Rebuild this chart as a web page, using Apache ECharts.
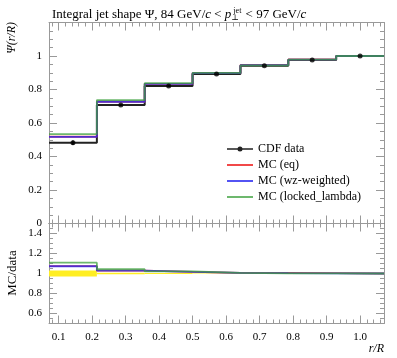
<!DOCTYPE html>
<html><head><meta charset="utf-8">
<script src="https://cdn.jsdelivr.net/npm/echarts@6/dist/echarts.min.js"></script>
<style>html,body{margin:0;padding:0;background:#fff}#c{width:397px;height:358px}</style>
</head><body><div id="c"></div>
<script>
// ---- data ----
const binEdges = [0.0714, 0.2143, 0.3571, 0.5, 0.6429, 0.7857, 0.9286, 1.0714];
const binCenters = [0.1429, 0.2857, 0.4286, 0.5714, 0.7143, 0.8571, 1.0];
const cdfData = [0.482, 0.707, 0.821, 0.893, 0.942, 0.976, 1.0];
const cdfErr = [0.014, 0.006, 0.004, 0.003, 0.002, 0.002, 0.001];
const mcEq = [0.518, 0.727, 0.834, 0.898, 0.947, 0.979, 1.0];
const mcWz = [0.517, 0.727, 0.834, 0.898, 0.945, 0.978, 1.0];
const mcLocked = [0.534, 0.737, 0.838, 0.899, 0.944, 0.978, 1.0];
const xTickLabels = [0.1, 0.2, 0.3, 0.4, 0.5, 0.6, 0.7, 0.8, 0.9, 1.0];
const ratioTickLabels = [0.6, 0.8, 1.0, 1.2, 1.4];

const XMIN = binEdges[0], XMAX = binEdges[binEdges.length - 1];
const xMinor = [];
for (let v = 0.08; v < XMAX; v += 0.02) xMinor.push(Math.round(v * 100) / 100);

function stepPts(vals) {
  const pts = vals.map((v, i) => [binEdges[i], v]);
  pts.push([binEdges[binEdges.length - 1], vals[vals.length - 1]]);
  return pts;
}
function ratio(vals) { return vals.map((v, i) => v / cdfData[i]); }

const FONT = '"Liberation Serif", "DejaVu Serif", serif';
const TICKC = '#999';

function xAx(grid, pos, major, labels) {
  return {
    type: 'value', gridIndex: grid, position: pos, min: XMIN, max: XMAX,
    axisLine: { show: major, onZero: false, lineStyle: { color: (grid === 0 && pos === 'bottom') ? '#555' : '#999' } },
    axisTick: { show: true, inside: true, length: major ? 8 : 4, customValues: major ? xTickLabels : xMinor, lineStyle: { color: TICKC } },
    axisLabel: { show: labels, customValues: xTickLabels, fontFamily: FONT, fontSize: 11, color: '#000', margin: 8,
      formatter: v => v.toFixed(1) },
    splitLine: { show: false }
  };
}
function yRatio(pos, major, labels) {
  return {
    type: 'value', gridIndex: 1, position: pos, min: 0.5, max: 1.5,
    interval: major ? undefined : 0.05,
    axisLine: { show: major, lineStyle: { color: '#999' } },
    axisTick: major ? { show: true, inside: true, length: 8, customValues: ratioTickLabels, lineStyle: { color: TICKC } }
                    : { show: true, inside: true, length: 4, lineStyle: { color: TICKC } },
    axisLabel: { show: labels, customValues: ratioTickLabels, fontFamily: FONT, fontSize: 11, color: '#000', margin: 7,
      formatter: v => (Math.abs(v - 1) < 1e-9 ? '1' : String(Math.round(v * 10) / 10)) },
    splitLine: { show: false }
  };
}
function yMain(pos, labels) {
  return {
    type: 'value', gridIndex: 0, position: pos, min: 0, max: 1.2, interval: 0.2,
    axisLine: { show: true, lineStyle: { color: '#999' } },
    axisTick: { show: true, inside: true, length: 8, lineStyle: { color: TICKC } },
    minorTick: { show: true, splitNumber: 4, length: 4, lineStyle: { color: TICKC } },
    axisLabel: { show: labels, showMaxLabel: false, fontFamily: FONT, fontSize: 11, color: '#000', margin: 7,
      formatter: v => (Math.abs(v - 1) < 1e-9 ? '1' : (v === 0 ? '0' : String(Math.round(v * 10) / 10))) },
    splitLine: { show: false }, minorSplitLine: { show: false }
  };
}

const bandData = cdfData.map((v, i) => [binEdges[i], binEdges[i + 1], 1 - cdfErr[i] / v, 1 + cdfErr[i] / v]);
const errData = cdfData.map((v, i) => [binCenters[i], v - cdfErr[i], v + cdfErr[i]]);

function mcLine(name, vals, color, xi, yi, withName) {
  return {
    type: 'line', name: withName ? name : undefined, xAxisIndex: xi, yAxisIndex: yi, step: 'end',
    data: stepPts(vals), symbol: 'none', silent: true, animation: false,
    lineStyle: { color: color, width: 1.8 }, itemStyle: { color: color }
  };
}

const RED = 'rgba(238,40,40,0.85)', BLUE = 'rgba(40,40,240,0.8)', GREEN = 'rgba(60,160,60,0.75)';
const LINE_ICON = 'path://M0,0 L26,0 L26,2 L0,2 Z';

const option = {
  animation: false,
  title: {
    left: 47, top: 2,
    text: 'Integral jet shape Ψ, 84 GeV/{it|c} < {it|p}{sub|⊥}{sup|jet} < 97 GeV/{it|c}',
    textStyle: {
      fontFamily: FONT, fontSize: 13, fontWeight: 'normal', color: '#000',
      rich: {
        it: { fontFamily: FONT, fontSize: 13, fontStyle: 'italic' },
        sub: { fontFamily: FONT, fontSize: 8, width: 1, verticalAlign: 'bottom', padding: [7, 0, 0, 0] },
        sup: { fontFamily: FONT, fontSize: 8, verticalAlign: 'top', padding: [0, 1, 5, 1] }
      }
    }
  },
  legend: {
    orient: 'vertical', left: 227, top: 143, padding: 0, itemWidth: 26, itemHeight: 10, itemGap: 4,
    textStyle: { fontFamily: FONT, fontSize: 12, color: '#000', lineHeight: 11 },
    data: [
      { name: 'CDF data', icon: 'path://M0,4.3 L26,4.3 L26,5.7 L0,5.7 Z M13,2.5 A2.5,2.5 0 1 1 13,7.5 A2.5,2.5 0 1 1 13,2.5 Z' },
      { name: 'MC (eq)', icon: LINE_ICON }, { name: 'MC (wz-weighted)', icon: LINE_ICON }, { name: 'MC (locked_lambda)', icon: LINE_ICON }
    ]
  },
  grid: [
    { left: 49, right: 13, top: 22.5, height: 201 },
    { left: 49, right: 13, top: 223.5, height: 100 }
  ],
  xAxis: [
    xAx(0, 'bottom', true, false), xAx(0, 'bottom', false, false),
    xAx(0, 'top', true, false), xAx(0, 'top', false, false),
    xAx(1, 'bottom', true, true), xAx(1, 'bottom', false, false),
    xAx(1, 'top', true, false), xAx(1, 'top', false, false)
  ],
  yAxis: [
    yMain('left', true), yMain('right', false),
    yRatio('left', true, true), yRatio('left', false, false),
    yRatio('right', true, false), yRatio('right', false, false)
  ],
  graphic: [
    { type: 'text', x: 6, y: 22, rotation: Math.PI / 2,
      style: { text: 'Ψ(r/R)', font: 'italic 12px ' + FONT, fill: '#000', align: 'right', verticalAlign: 'top' } },
    { type: 'text', x: 6, y: 273, rotation: Math.PI / 2,
      style: { text: 'MC/data', font: '13px ' + FONT, fill: '#000', align: 'center', verticalAlign: 'top' } },
    { type: 'text', x: 384, y: 343,
      style: { text: 'r/R', font: 'italic 12px ' + FONT, fill: '#000', align: 'right', verticalAlign: 'top' } }
  ],
  series: [
    {
      type: 'custom', xAxisIndex: 4, yAxisIndex: 2, data: bandData, silent: true, z: 1,
      renderItem: function (params, api) {
        const a = api.coord([api.value(0), api.value(3)]);
        const b = api.coord([api.value(1), api.value(2)]);
        return { type: 'rect', shape: { x: a[0], y: a[1], width: b[0] - a[0], height: b[1] - a[1] }, style: { fill: '#ffee22' } };
      }
    },
    {
      type: 'line', name: 'CDF data', xAxisIndex: 0, yAxisIndex: 0, step: 'end', data: stepPts(cdfData),
      symbol: 'none', lineStyle: { color: '#222', width: 2 }, itemStyle: { color: '#222' }, z: 2
    },
    {
      type: 'scatter', xAxisIndex: 0, yAxisIndex: 0, data: cdfData.map((v, i) => [binCenters[i], v]),
      symbol: 'circle', symbolSize: 5, itemStyle: { color: '#000' }, z: 3, silent: true
    },
    {
      type: 'custom', xAxisIndex: 0, yAxisIndex: 0, data: errData, z: 3, silent: true,
      renderItem: function (params, api) {
        const a = api.coord([api.value(0), api.value(1)]);
        const b = api.coord([api.value(0), api.value(2)]);
        return { type: 'line', shape: { x1: a[0], y1: a[1], x2: b[0], y2: b[1] }, style: { stroke: '#000', lineWidth: 1.5 } };
      }
    },
    mcLine('MC (eq)', mcEq, RED, 0, 0, true),
    mcLine('MC (wz-weighted)', mcWz, BLUE, 0, 0, true),
    mcLine('MC (locked_lambda)', mcLocked, GREEN, 0, 0, true),
    mcLine('MC (eq)', ratio(mcEq), RED, 4, 2, false),
    mcLine('MC (wz-weighted)', ratio(mcWz), BLUE, 4, 2, false),
    mcLine('MC (locked_lambda)', ratio(mcLocked), GREEN, 4, 2, false)
  ]
};
const chart = echarts.init(document.getElementById('c'), null, { renderer: 'canvas' });
chart.setOption(option);
</script>
</body></html>
